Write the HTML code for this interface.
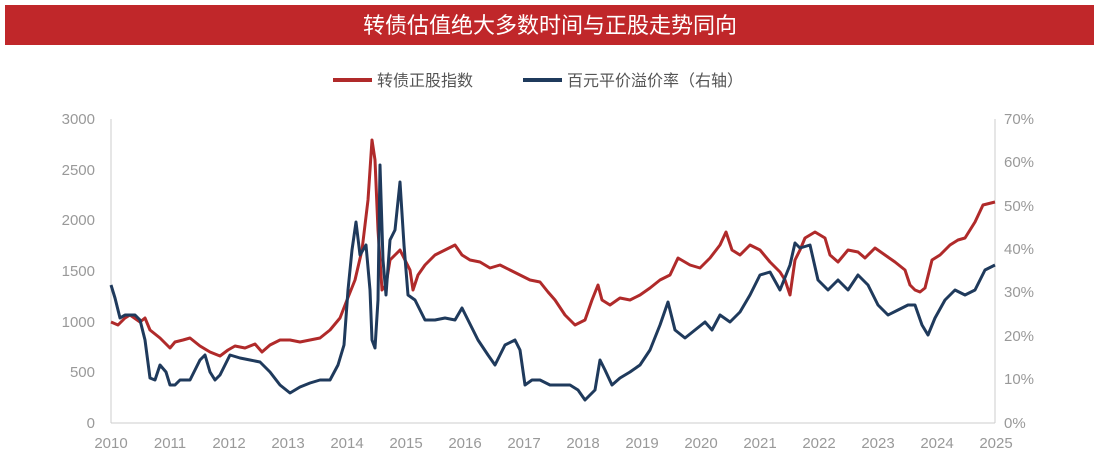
<!DOCTYPE html>
<html><head><meta charset="utf-8"><style>
body{margin:0;background:#fff;width:1099px;height:463px;overflow:hidden}
svg text{font-family:"Liberation Sans","Noto Sans CJK SC",sans-serif}
</style></head><body>
<svg width="1099" height="463" viewBox="0 0 1099 463">
<rect x="5" y="5" width="1089" height="40" fill="#c0272a"/>
<text x="550" y="33" font-size="22" fill="#fff" text-anchor="middle">转债估值绝大多数时间与正股走势同向</text>
<line x1="333" y1="80" x2="372" y2="80" stroke="#b02a2a" stroke-width="4"/>
<text x="377" y="86" font-size="16" fill="#555">转债正股指数</text>
<line x1="523" y1="80" x2="562" y2="80" stroke="#1f3a5c" stroke-width="4"/>
<text x="567" y="86" font-size="16" fill="#555">百元平价溢价率（右轴）</text>
<g stroke="#ccc" stroke-width="1">
<line x1="111" y1="119" x2="111" y2="423"/><line x1="111" y1="423" x2="995" y2="423"/>
<line x1="995" y1="119" x2="995" y2="423"/>
</g>
<g font-size="15" fill="#999" text-anchor="end">
<text x="95" y="124">3000</text><text x="95" y="175">2500</text><text x="95" y="225">2000</text><text x="95" y="276">1500</text><text x="95" y="327">1000</text><text x="95" y="377">500</text><text x="95" y="428">0</text>
</g>
<g font-size="15" fill="#999">
<text x="1004" y="124">70%</text><text x="1004" y="167">60%</text><text x="1004" y="211">50%</text><text x="1004" y="254">40%</text><text x="1004" y="297">30%</text><text x="1004" y="341">20%</text><text x="1004" y="384">10%</text><text x="1004" y="428">0%</text>
</g>
<g font-size="15" fill="#999" text-anchor="middle">
<text x="111" y="448">2010</text><text x="170" y="448">2011</text><text x="229" y="448">2012</text><text x="288" y="448">2013</text><text x="347" y="448">2014</text><text x="406" y="448">2015</text><text x="465" y="448">2016</text><text x="524" y="448">2017</text><text x="583" y="448">2018</text><text x="642" y="448">2019</text><text x="701" y="448">2020</text><text x="760" y="448">2021</text><text x="819" y="448">2022</text><text x="878" y="448">2023</text><text x="937" y="448">2024</text><text x="996" y="448">2025</text>
</g>
<polyline fill="none" stroke="#b02a2a" stroke-width="3" stroke-linejoin="round" points="111,322 118,325 125,318 130,315 140,322 145,318 150,330 160,338 170,348 175,342 183,340 190,338 200,346 210,352 220,356 228,350 235,346 245,348 255,344 262,352 270,345 280,340 290,340 300,342 310,340 320,338 330,330 340,318 347,300 355,280 362,250 368,200 372,140 375,160 378,230 382,290 386,285 390,260 395,255 400,250 405,260 410,270 413,290 418,275 425,265 435,255 445,250 455,245 462,255 470,260 480,262 490,268 500,265 510,270 520,275 530,280 540,282 548,292 555,300 565,315 575,325 585,320 592,300 598,285 602,300 610,305 620,298 630,300 640,295 650,288 660,280 670,275 678,258 690,265 700,268 710,258 720,245 726,232 732,250 740,255 750,245 760,250 770,262 780,272 785,280 790,295 795,260 800,250 805,238 815,232 825,238 830,255 838,262 848,250 858,252 865,258 875,248 885,255 895,262 905,270 910,285 915,290 920,292 925,288 932,260 940,255 950,245 958,240 965,238 975,222 983,205 995,202"/>
<polyline fill="none" stroke="#1f3a5c" stroke-width="3" stroke-linejoin="round" points="111,285 115,298 120,318 125,315 135,315 140,320 145,340 150,378 155,380 160,365 166,372 170,385 175,385 180,380 190,380 195,370 200,360 205,355 210,372 215,380 220,375 225,365 230,355 240,358 250,360 260,362 270,372 280,385 290,393 300,387 310,383 320,380 330,380 338,365 344,345 348,290 352,250 356,222 360,255 366,245 370,290 372,340 375,348 378,300 380,165 383,260 386,295 390,240 395,230 400,182 404,245 408,295 415,300 425,320 435,320 445,318 455,320 462,308 468,320 478,340 488,355 495,365 505,345 515,340 520,350 525,385 532,380 540,380 550,385 560,385 570,385 578,390 585,400 595,390 600,360 605,370 612,385 620,378 630,372 640,365 650,350 660,325 668,302 675,330 685,338 695,330 705,322 712,330 720,315 730,322 740,312 750,295 760,275 770,272 780,290 790,265 795,243 800,248 810,245 818,280 828,290 838,280 848,290 858,275 868,285 878,305 888,315 898,310 908,305 915,305 922,325 928,335 935,318 945,300 955,290 965,295 975,290 985,270 995,265"/>
</svg>
</body></html>
